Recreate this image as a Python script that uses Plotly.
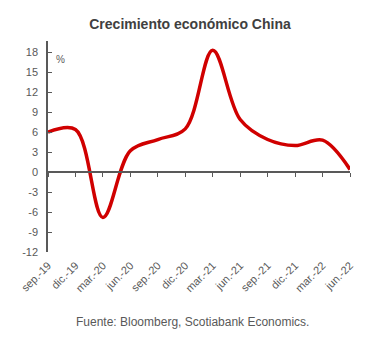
import plotly.graph_objects as go

quarters = ["sep.-19", "dic.-19", "mar.-20", "jun.-20", "sep.-20", "dic.-20",
            "mar.-21", "jun.-21", "sep.-21", "dic.-21", "mar.-22", "jun.-22"]
gdp_yoy = [6.0, 6.4, -6.8, 3.2, 4.9, 6.5, 18.3, 7.9, 4.9, 4.0, 4.8, 0.4]
y_ticks = [-12, -9, -6, -3, 0, 3, 6, 9, 12, 15, 18]
y_tick_text = [str(v) for v in y_ticks]

idx = list(range(len(quarters)))
ymin, ymax = -12, 19.7
axis_col = "#595959"
txt_col = "#595959"

fig = go.Figure()
fig.add_trace(go.Scatter(
    x=idx, y=gdp_yoy, mode="lines",
    line=dict(color="#d00000", width=3.5, shape="spline", smoothing=1.0),
    hoverinfo="skip", showlegend=False, cliponaxis=False,
))

fig.update_layout(
    width=366, height=346,
    margin=dict(l=48, r=16, t=41, b=94),
    paper_bgcolor="white", plot_bgcolor="white",
    font=dict(family="Liberation Sans, Arial, sans-serif", color=txt_col, size=11),
    title=dict(text="<b>Crecimiento económico China</b>", x=190 / 366, xanchor="center",
               y=1 - 24 / 346, yanchor="middle",
               font=dict(size=14, color="#404040")),
    xaxis=dict(range=[0, len(quarters) - 1], tickvals=idx, ticktext=quarters,
               tickangle=-45, showgrid=False, zeroline=False, showline=False,
               ticks="", ticklabelstandoff=4, tickfont=dict(size=11, color=txt_col)),
    xaxis2=dict(matches="x", overlaying="x", anchor="free",
                position=(0 - ymin) / (ymax - ymin),
                tickvals=idx, showticklabels=False, ticks="outside", ticklen=4,
                tickcolor=axis_col, showline=True, linecolor=axis_col, linewidth=1.5,
                showgrid=False, zeroline=False),
    yaxis=dict(range=[ymin, ymax], tickvals=y_ticks, ticktext=y_tick_text,
               showgrid=False, zeroline=False,
               showline=True, linecolor=axis_col, linewidth=1.5,
               ticks="inside", ticklen=4, tickcolor=axis_col, ticklabelstandoff=6,
               tickfont=dict(size=11, color=txt_col)),
    annotations=[
        dict(text="%", xref="paper", yref="y", x=0.02, y=18, xanchor="left",
             yanchor="top", showarrow=False, font=dict(size=10, color=txt_col)),
        dict(text="Fuente: Bloomberg, Scotiabank Economics.", xref="paper", yref="paper",
             x=(192 - 48) / (366 - 64), y=-(322 - 252) / (346 - 41 - 94),
             xanchor="center", yanchor="middle", showarrow=False,
             font=dict(size=12, color=txt_col)),
    ],
)
# invisible trace on x2 so the zero axis renders
fig.add_trace(go.Scatter(x=[0], y=[0], xaxis="x2", mode="markers",
                         marker=dict(opacity=0), hoverinfo="skip", showlegend=False))

fig.write_html("out.html")
